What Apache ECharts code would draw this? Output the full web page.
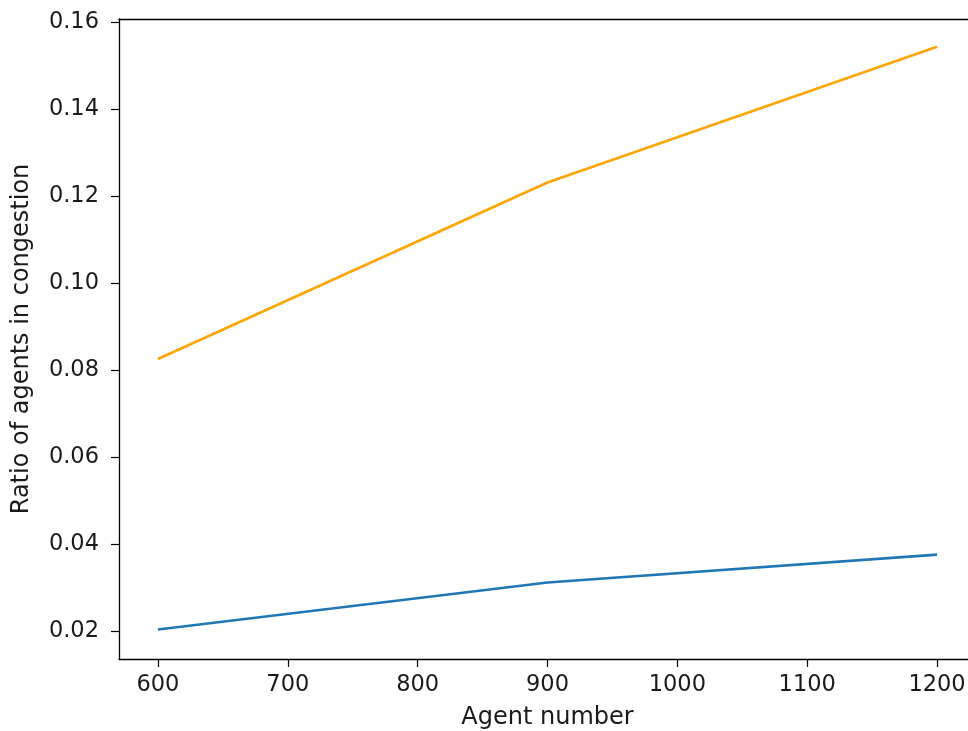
<!DOCTYPE html>
<html>
<head>
<meta charset="utf-8">
<script src="https://cdn.jsdelivr.net/npm/echarts@6/dist/echarts.min.js"></script>
<style>
html,body{margin:0;padding:0;background:#fff;}
#chart{width:968px;height:731px;}
</style>
</head>
<body>
<div id="chart"></div>
<script>
const agentNumbers = [600, 900, 1200];
const orangeRatio = [0.0826, 0.1232, 0.1544];
const blueRatio = [0.0204, 0.0312, 0.0376];
const xTicks = [600, 700, 800, 900, 1000, 1100, 1200];
const yTicks = [0.02, 0.04, 0.06, 0.08, 0.10, 0.12, 0.14, 0.16];

const font = 'DejaVu Sans';
const chart = echarts.init(document.getElementById('chart'), null, {renderer: 'canvas'});
chart.setOption({
  animation: false,
  backgroundColor: '#ffffff',
  grid: {
    left: 119, top: 19, height: 640, width: 857,
    outerBoundsMode: 'none', containLabel: false,
    show: false
  },
  xAxis: [{
    type: 'value', min: 570, max: 1230,
    name: 'Agent number', nameLocation: 'middle', nameGap: 47,
    nameTextStyle: {fontFamily: font, fontSize: 24, color: '#1a1a1a'},
    axisLine: {show: true, onZero: false, lineStyle: {color: '#000', width: 1.3}},
    axisTick: {show: true, length: 8, lineStyle: {color: '#000', width: 1.2}, customValues: xTicks},
    axisLabel: {fontFamily: font, fontSize: 22.5, color: '#1a1a1a', margin: 15, customValues: xTicks,
      formatter: v => String(v)},
    splitLine: {show: false}
  }, {
    type: 'value', position: 'top', min: 570, max: 1230,
    axisLine: {show: true, onZero: false, lineStyle: {color: '#000', width: 1.3}},
    axisTick: {show: false}, axisLabel: {show: false}, splitLine: {show: false}
  }],
  yAxis: {
    type: 'value', min: 0.0136, max: 0.1608,
    name: 'Ratio of agents in congestion', nameLocation: 'middle', nameGap: 85,
    nameTextStyle: {fontFamily: font, fontSize: 24, color: '#1a1a1a'},
    axisLine: {show: true, onZero: false, lineStyle: {color: '#000', width: 1.3}},
    axisTick: {show: true, length: 8, lineStyle: {color: '#000', width: 1.2}, customValues: yTicks},
    axisLabel: {fontFamily: font, fontSize: 22.5, color: '#1a1a1a', margin: 20, customValues: yTicks,
      formatter: v => v.toFixed(2)},
    splitLine: {show: false}
  },
  series: [
    {type: 'line', xAxisIndex: 0, data: agentNumbers.map((x, i) => [x, blueRatio[i]]), symbol: 'none',
     lineStyle: {color: '#1f77b4', width: 2.6}, itemStyle: {color: '#1f77b4'}},
    {type: 'line', xAxisIndex: 0, data: agentNumbers.map((x, i) => [x, orangeRatio[i]]), symbol: 'none',
     lineStyle: {color: '#ffa500', width: 2.6}, itemStyle: {color: '#ffa500'}}
  ]
});
</script>
</body>
</html>
